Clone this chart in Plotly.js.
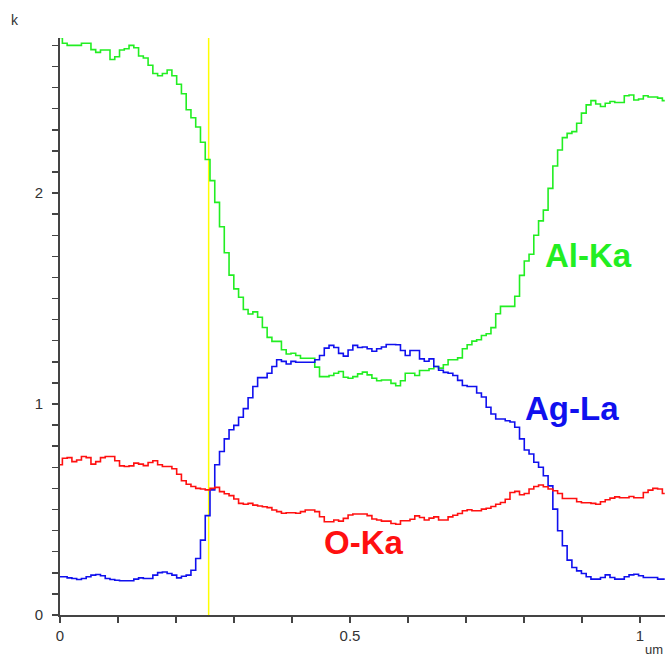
<!DOCTYPE html>
<html>
<head>
<meta charset="utf-8">
<script src="https://cdn.plot.ly/plotly-3.0.1.min.js"></script>
<style>
  html, body { margin: 0; padding: 0; background: #ffffff; }
  #chart { width: 665px; height: 658px; }
</style>
</head>
<body>
<div id="chart"></div>
<script>
// ---- data ----
const STEP_UM = 0.00821;          // spacing of the line-scan points (um)
const markerX = 0.2563;           // yellow cursor position (um)

const alKa = [
  2.738,2.71,2.70,2.70,2.70,2.71,2.71,2.68,2.667,2.678,
  2.678,2.633,2.646,2.678,2.684,2.70,2.689,2.65,2.64,2.606,
  2.567,2.556,2.567,2.583,2.556,2.516,2.471,2.395,2.357,2.313,
  2.241,2.159,2.059,1.956,1.84,1.717,1.611,1.546,1.506,1.448,
  1.427,1.437,1.411,1.363,1.316,1.297,1.297,1.257,1.237,1.241,
  1.230,1.217,1.217,1.217,1.175,1.130,1.130,1.135,1.146,1.154,
  1.127,1.122,1.130,1.143,1.151,1.138,1.122,1.110,1.114,1.114,
  1.098,1.087,1.11,1.146,1.146,1.135,1.159,1.159,1.167,1.178,
  1.170,1.186,1.210,1.210,1.219,1.262,1.281,1.298,1.305,1.325,
  1.333,1.362,1.428,1.463,1.463,1.463,1.511,1.61,1.678,1.71,
  1.800,1.868,1.919,2.022,2.128,2.204,2.263,2.283,2.291,2.331,
  2.379,2.418,2.438,2.422,2.410,2.426,2.434,2.429,2.429,2.461,
  2.465,2.441,2.446,2.461,2.455,2.455,2.45,2.438
];

const agLa = [
  0.181,0.181,0.176,0.173,0.168,0.173,0.181,0.189,0.192,0.186,
  0.173,0.168,0.165,0.162,0.162,0.162,0.17,0.176,0.173,0.173,
  0.189,0.201,0.204,0.197,0.189,0.176,0.184,0.189,0.212,0.268,
  0.355,0.471,0.593,0.712,0.775,0.835,0.878,0.899,0.937,0.978,
  1.03,1.083,1.125,1.125,1.146,1.178,1.21,1.202,1.19,1.202,
  1.198,1.198,1.198,1.198,1.21,1.23,1.265,1.278,1.268,1.24,
  1.227,1.256,1.278,1.268,1.27,1.262,1.25,1.262,1.27,1.282,
  1.282,1.281,1.254,1.230,1.254,1.254,1.214,1.203,1.214,1.178,
  1.16,1.15,1.146,1.135,1.112,1.088,1.083,1.083,1.052,1.033,
  0.985,0.953,0.929,0.929,0.921,0.915,0.89,0.835,0.782,0.763,
  0.724,0.700,0.660,0.612,0.502,0.399,0.328,0.260,0.225,0.209,
  0.197,0.181,0.17,0.17,0.178,0.19,0.178,0.17,0.17,0.181,
  0.19,0.193,0.186,0.178,0.178,0.178,0.17,0.17
];

const oKa = [
  0.712,0.743,0.746,0.727,0.735,0.751,0.746,0.715,0.727,0.746,
  0.751,0.751,0.731,0.707,0.704,0.707,0.72,0.715,0.708,0.723,
  0.731,0.712,0.704,0.704,0.693,0.667,0.636,0.62,0.609,0.60,
  0.597,0.593,0.60,0.605,0.585,0.575,0.566,0.55,0.529,0.525,
  0.529,0.521,0.517,0.513,0.509,0.498,0.49,0.482,0.485,0.485,
  0.482,0.49,0.498,0.498,0.49,0.466,0.442,0.442,0.45,0.445,
  0.458,0.474,0.479,0.479,0.479,0.471,0.455,0.45,0.445,0.445,
  0.434,0.43,0.447,0.447,0.454,0.470,0.462,0.450,0.459,0.465,
  0.450,0.450,0.465,0.473,0.481,0.494,0.499,0.494,0.494,0.502,
  0.506,0.514,0.525,0.533,0.549,0.581,0.586,0.570,0.576,0.597,
  0.609,0.616,0.608,0.597,0.589,0.576,0.552,0.552,0.552,0.537,
  0.532,0.532,0.529,0.525,0.537,0.546,0.554,0.560,0.556,0.556,
  0.562,0.556,0.556,0.581,0.592,0.600,0.597,0.576
];

const seriesNames = ['Al-Ka', 'Ag-La', 'O-Ka'];
const xTickVals = [0, 0.5, 1];
const xTickText = ['0', '0.5', '1'];
const yTickVals = [0, 1, 2];
const yTickText = ['0', '1', '2'];
const xUnit = 'um';
const yUnit = 'k';

// ---- drawing ----
const colors = ['#22ee22', '#1010ee', '#ff1010'];
const xs = n => Array.from({length: n}, (_, i) => i * STEP_UM);
const seriesVals = [alKa, agLa, oKa];

const traces = seriesVals.map((v, k) => ({
  type: 'scatter',
  mode: 'lines',
  x: xs(v.length),
  y: v,
  name: seriesNames[k],
  line: {color: colors[k], width: 1.6, shape: 'hvh'},
  hoverinfo: 'skip'
}));

const labelPos = [
  {x: 0.9115, y: 1.705},
  {x: 0.8836, y: 0.978},
  {x: 0.5236, y: 0.346}
];

const font = 'Liberation Sans, Arial, sans-serif';

const annotations = seriesNames.map((n, k) => ({
  x: labelPos[k].x, y: labelPos[k].y, xref: 'x', yref: 'y',
  text: '<b>' + n + '</b>', showarrow: false,
  xanchor: 'center', yanchor: 'middle',
  font: {family: font, size: 33, color: colors[k]}
}));
annotations.push({
  x: -0.0744, y: 1.031, xref: 'paper', yref: 'paper',
  text: yUnit, showarrow: false, xanchor: 'center', yanchor: 'middle',
  font: {family: font, size: 14, color: '#333'}
});
annotations.push({
  x: 0.999, y: -0.0745, xref: 'paper', yref: 'paper',
  text: xUnit, showarrow: false, xanchor: 'right', yanchor: 'bottom',
  borderpad: 0,
  font: {family: font, size: 13, color: '#333'}
});

const axisCommon = {
  showgrid: false, zeroline: false, showline: true,
  linecolor: '#444', linewidth: 2,
  ticks: 'outside', ticklen: 6, tickwidth: 1.5, tickcolor: '#444',
  tickfont: {family: font, size: 15, color: '#333'},
  fixedrange: true
};

const layout = {
  width: 665, height: 658,
  margin: {l: 60, r: 0, t: 38, b: 43, pad: 0},
  paper_bgcolor: '#ffffff', plot_bgcolor: '#ffffff',
  showlegend: false,
  xaxis: Object.assign({}, axisCommon, {
    range: [0, 1.0431],
    tickmode: 'array', tickvals: xTickVals, ticktext: xTickText,
    minor: {tick0: 0, dtick: 0.1, ticks: 'outside', ticklen: 6, tickwidth: 1.5, tickcolor: '#444', showgrid: false}
  }),
  yaxis: Object.assign({}, axisCommon, {
    range: [0, 2.735],
    tickmode: 'array', tickvals: yTickVals, ticktext: yTickText,
    ticklabelstandoff: 6,
    minor: {tick0: 0, dtick: 0.1, ticks: 'outside', ticklen: 6, tickwidth: 1.5, tickcolor: '#444', showgrid: false}
  }),
  shapes: [{
    type: 'line', xref: 'x', yref: 'paper',
    x0: markerX, x1: markerX, y0: 0, y1: 1,
    line: {color: '#ffff00', width: 1.5}, layer: 'below'
  }],
  annotations: annotations
};

Plotly.newPlot('chart', traces, layout, {displayModeBar: false, staticPlot: true});
</script>
</body>
</html>
